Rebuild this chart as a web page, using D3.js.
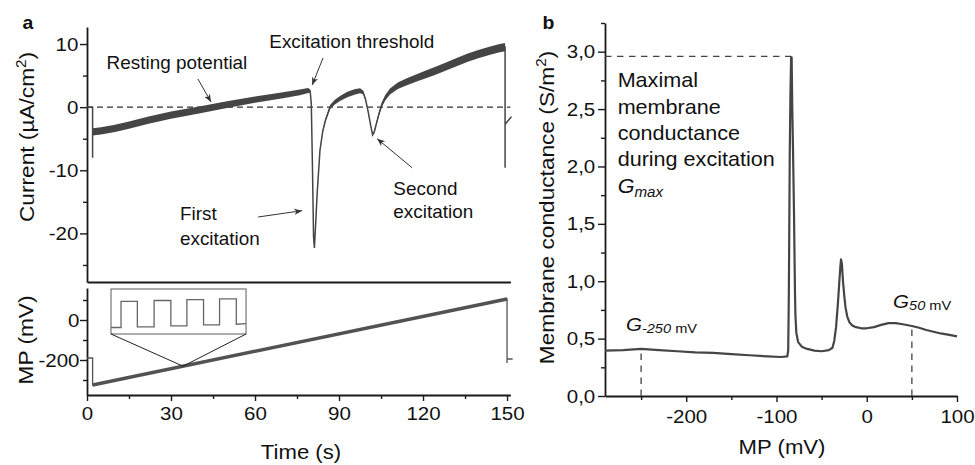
<!DOCTYPE html>
<html>
<head>
<meta charset="utf-8">
<script src="https://cdn.jsdelivr.net/npm/d3@7"></script>
<style>
  body { margin: 0; background: #fff; }
</style>
</head>
<body>
<svg id="fig" width="975" height="465"></svg>
<script>
// panel a, upper trace: membrane current (time s, uA/cm2, band thickness)
var curT = [0, 2, 2, 2, 5, 10, 15, 22, 30, 40, 50, 60, 70, 76, 79, 79.7, 80.1, 80.5, 80.9, 81.2, 81.6, 82.2, 83.2, 84.2, 85.2, 86.8, 88.5, 90.5, 93, 95.5, 97.5, 98.6, 99.5, 100.4, 101.3, 102, 102.6, 103.4, 104.3, 105.3, 106.5, 108.2, 111, 114, 117.5, 121, 124, 128, 132, 136, 140, 144, 147, 149.3, 149.3, 149.3, 151.6];
var curI = [0, 0, -8, -3.9, -3.75, -3.35, -2.85, -2.05, -1.25, -0.45, 0.4, 1.2, 1.9, 2.35, 2.65, 2.55, 0.5, -9, -20.5, -22.3, -19, -13.6, -6.8, -3.8, -2.0, 0.0, 0.8, 1.4, 2.0, 2.4, 2.6, 2.35, 1.2, -0.7, -2.9, -4.4, -3.9, -2.5, -1.0, 0.4, 1.5, 2.5, 3.4, 4.0, 4.6, 5.2, 5.7, 6.4, 7.15, 7.85, 8.45, 8.95, 9.3, 9.5, -9.6, -2.7, -1.5];
var curW = [0, 0, 0, 1.15, 1.15, 1.15, 1.15, 1.15, 1.15, 1.1, 1.05, 1.0, 0.95, 0.9, 0.8, 0.5, 0.15, 0.15, 0.15, 0.15, 0.15, 0.2, 0.25, 0.35, 0.5, 0.65, 0.75, 0.8, 0.85, 0.85, 0.8, 0.6, 0.45, 0.35, 0.3, 0.3, 0.35, 0.45, 0.6, 0.75, 0.85, 0.95, 1.05, 1.1, 1.15, 1.2, 1.25, 1.3, 1.3, 1.3, 1.3, 1.3, 1.3, 1.3, 0, 0, 0];

// panel a, lower trace: applied membrane potential
var mpT = [0, 2, 2, 150, 150, 150, 152];
var mpV = [-190, -190, -325, 105, -215, -195, -195];
var rampFrom = 2, rampTo = 3;     // indices of the ramp segment

// inset: a few pulses of the ramp, magnified
var insetPhase = [0, 0.306, 0.306, 0.804, 0.804, 1.315, 1.315, 1.826, 1.826, 2.315, 2.315, 2.823, 2.823, 3.312, 3.312, 3.823, 3.823, 4.12];
var insetLevel = [0, 0, 0.97, 0.97, 0.02, 0.02, 1.0, 1.0, 0.06, 0.06, 1.03, 1.03, 0.1, 0.1, 1.06, 1.06, 0.12, 0.14];
var insetBox = [8.57, 56.8, -70, 155];   // t0, t1, mp0, mp1
var zoomAt = [34.3, -231];

// panel b: membrane conductance vs membrane potential
var gMP = [-290, -270, -250, -230, -210, -190, -170, -150, -130, -110, -95, -88, -87, -86.3, -85.8, -85.3, -84.6, -83.8, -83.2, -82.5, -81.6, -80.6, -80, -79.5, -79, -78, -76, -72, -66, -58, -50, -42, -38, -36, -34, -32, -30.5, -29.3, -28.5, -27.5, -26.3, -25, -23.5, -21.5, -19, -16, -12, -6, 0, 8, 16, 24, 32, 40, 50, 58, 66, 74, 82, 90, 100];
var gVal = [0.395, 0.40, 0.41, 0.40, 0.39, 0.38, 0.375, 0.365, 0.355, 0.345, 0.34, 0.345, 0.4, 0.9, 1.5, 2.1, 2.6, 2.95, 2.95, 2.5, 2.1, 1.6, 1.2, 0.9, 0.7, 0.55, 0.47, 0.43, 0.41, 0.395, 0.39, 0.40, 0.42, 0.48, 0.6, 0.8, 0.98, 1.12, 1.19, 1.15, 1.0, 0.88, 0.77, 0.69, 0.64, 0.615, 0.6, 0.59, 0.59, 0.6, 0.62, 0.635, 0.635, 0.625, 0.61, 0.595, 0.575, 0.56, 0.545, 0.535, 0.52];
var gMax = [-83.5, 2.96];
var gLow = [-250, 0.41];
var gHigh = [50, 0.61];

// ticks
var timeTicks = [0, 30, 60, 90, 120, 150];
var timeMinor = [15, 45, 75, 105, 135];
var curTicks = [-20, -10, 0, 10];
var curMinor = [-25, -15, -5, 5];
var mpTicks = [-200, 0];
var mpMinor = [-300, -100, 100];
var gTicks = [0, 0.5, 1, 1.5, 2, 2.5, 3];
var gMinor = [0.25, 0.75, 1.25, 1.75, 2.25, 2.75, 3.25];
var gxTicks = [-200, -100, 0, 100];
var gxMinor = [-250, -150, -50, 50];

var FONT = '"Liberation Sans", Arial, Helvetica, sans-serif';
var SX = 1.08;   // text in the figure is a bit wide
var INK = "#1a1a1a", TRACE = "#454545";

var svg = d3.select("#fig");

var x = d3.scaleLinear().domain([0, 151.2]).range([87, 510.4]);
var yCur = d3.scaleLinear().domain([-27.7, 12.7]).range([282, 27]);
var yMP = d3.scaleLinear().domain([-375, 160]).range([395, 288]);
var xG = d3.scaleLinear().domain([-290, 100]).range([605, 957]);
var yG = d3.scaleLinear().domain([0, 3.25]).range([396, 23]);

function styleAxis(g, sw) {
  g.attr("font-family", FONT).attr("font-size", 19);
  g.select(".domain").attr("stroke", INK).attr("stroke-width", sw);
  g.selectAll(".tick line").attr("stroke", INK).attr("stroke-width", 1.4);
  g.selectAll(".tick text").attr("fill", "#111").attr("transform", "scale(" + SX + ",1)");
}
function minor(g) {
  g.select(".domain").remove();
  g.selectAll(".tick line").attr("stroke", INK).attr("stroke-width", 1.4);
}
function addText(px, py, str, size, o) {
  o = o || {};
  var t = svg.append("text")
    .attr("transform", "translate(" + px + "," + py + ")" + (o.rot ? " rotate(" + o.rot + ")" : "") + " scale(" + SX + ",1)")
    .attr("font-family", FONT).attr("font-size", size).attr("fill", "#111")
    .attr("text-anchor", o.anchor || "start");
  if (o.bold) t.attr("font-weight", "bold");
  if (o.italic) t.attr("font-style", "italic");
  if (str) t.text(str);
  return t;
}
var fmtComma = function (d) { return d3.format(".1f")(d).replace(".", ","); };

// ---------- panel a axes
svg.append("g").attr("transform", "translate(" + x(0) + ",0)")
  .call(d3.axisLeft(yCur).tickValues(curTicks).tickSize(7).tickPadding(1).tickSizeOuter(0).tickFormat(String))
  .call(styleAxis, 1.8);
svg.append("g").attr("transform", "translate(" + x(0) + ",0)")
  .call(d3.axisLeft(yCur).tickValues(curMinor).tickSize(4).tickFormat(""))
  .call(minor);
svg.append("g").attr("transform", "translate(0," + yCur(-27.7) + ")")
  .call(d3.axisBottom(x).tickValues([]).tickSizeOuter(0))
  .call(styleAxis, 2);

svg.append("g").attr("transform", "translate(" + x(0) + ",0)")
  .call(d3.axisLeft(yMP).tickValues(mpTicks).tickSize(7).tickPadding(0).tickSizeOuter(0).tickFormat(String))
  .call(styleAxis, 1.8);
svg.append("g").attr("transform", "translate(" + x(0) + ",0)")
  .call(d3.axisLeft(yMP).tickValues(mpMinor).tickSize(4).tickFormat(""))
  .call(minor);
svg.append("g").attr("transform", "translate(0," + yMP(-375) + ")")
  .call(d3.axisBottom(x).tickValues(timeTicks).tickSize(6).tickPadding(6).tickSizeOuter(0).tickFormat(String))
  .call(styleAxis, 2);
svg.append("g").attr("transform", "translate(0," + yMP(-375) + ")")
  .call(d3.axisBottom(x).tickValues(timeMinor).tickSize(4).tickFormat(""))
  .call(minor);

// zero line
svg.append("line")
  .attr("x1", x(0)).attr("x2", x(151.2)).attr("y1", yCur(0)).attr("y2", yCur(0))
  .attr("stroke", "#333").attr("stroke-width", 1.2).attr("stroke-dasharray", "6,4");

// current band + thin centre line
var idx = d3.range(curT.length);
svg.append("path")
  .attr("d", d3.area()
    .defined(function (i) { return curW[i] > 0; })
    .x(function (i) { return x(curT[i]); })
    .y0(function (i) { return yCur(curI[i] - curW[i] / 2); })
    .y1(function (i) { return yCur(curI[i] + curW[i] / 2); })(idx))
  .attr("fill", TRACE);
svg.append("path")
  .attr("d", d3.line().x(function (i) { return x(curT[i]); }).y(function (i) { return yCur(curI[i]); })(idx))
  .attr("fill", "none").attr("stroke", TRACE).attr("stroke-width", 1.5);

// potential trace
var mIdx = d3.range(mpT.length);
var mLine = d3.line().x(function (i) { return x(mpT[i]); }).y(function (i) { return yMP(mpV[i]); });
svg.append("path").attr("d", mLine(mIdx))
  .attr("fill", "none").attr("stroke", "#555").attr("stroke-width", 1.3);
svg.append("path").attr("d", mLine([rampFrom, rampTo]))
  .attr("fill", "none").attr("stroke", "#525252").attr("stroke-width", 3.4);

// inset
var ix = d3.scaleLinear().domain([0, 4.12]).range([x(insetBox[0]), x(insetBox[1])]);
var iy = d3.scaleLinear().domain([0, 1]).range([yMP(-37.5), yMP(97.5)]);
svg.append("rect")
  .attr("x", x(insetBox[0])).attr("y", yMP(insetBox[3]))
  .attr("width", x(insetBox[1]) - x(insetBox[0])).attr("height", yMP(insetBox[2]) - yMP(insetBox[3]))
  .attr("fill", "#fff").attr("stroke", "#6a6a6a").attr("stroke-width", 1.1);
svg.append("path")
  .attr("d", d3.line().x(function (i) { return ix(insetPhase[i]); }).y(function (i) { return iy(insetLevel[i]); })(d3.range(insetPhase.length)))
  .attr("fill", "none").attr("stroke", "#666").attr("stroke-width", 1.3);
svg.append("path")
  .attr("d", "M" + x(insetBox[0]) + "," + yMP(insetBox[2]) + "L" + x(zoomAt[0]) + "," + yMP(zoomAt[1]) + "L" + x(insetBox[1]) + "," + yMP(insetBox[2]))
  .attr("fill", "none").attr("stroke", "#222").attr("stroke-width", 1);

// arrows
svg.append("defs").append("marker")
  .attr("id", "ah").attr("viewBox", "0 0 10 10").attr("refX", 10).attr("refY", 5)
  .attr("markerWidth", 8).attr("markerHeight", 8).attr("markerUnits", "userSpaceOnUse").attr("orient", "auto")
  .append("path").attr("d", "M0,1 L10,5 L0,9 L3,5 Z").attr("fill", "#333");

var arrows = [
  [[84.3, 7.8], [80.4, 3.5]],
  [[39.6, 4.47], [44.3, 0.82]],
  [[61.1, -17.4], [76.8, -16.4]],
  [[116.1, -9.6], [103.6, -5.0]]
];
arrows.forEach(function (a) {
  svg.append("line")
    .attr("x1", x(a[0][0])).attr("y1", yCur(a[0][1]))
    .attr("x2", x(a[1][0])).attr("y2", yCur(a[1][1]))
    .attr("stroke", "#333").attr("stroke-width", 1).attr("marker-end", "url(#ah)");
});

addText(x(65.1), yCur(9.33), "Excitation threshold", 17.5);
addText(x(7.0), yCur(6.0), "Resting potential", 17.5);
addText(x(33.2), yCur(-17.9), "First", 17.5);
addText(x(33.2), yCur(-21.8), "excitation", 17.5);
addText(x(109.4), yCur(-13.9), "Second", 17.5);
addText(x(109.4), yCur(-17.6), "excitation", 17.5);

// axis titles panel a
var ct = addText(34, 137, null, 21, { rot: -90, anchor: "middle" });
ct.append("tspan").text("Current (\u00b5A/cm");
ct.append("tspan").attr("font-size", 14).attr("dy", -8).text("2");
ct.append("tspan").attr("dy", 8).text(")");
addText(33, 340, "MP (mV)", 21, { rot: -90, anchor: "middle" });
addText(301, 459, "Time (s)", 20.5, { anchor: "middle" });
addText(22.5, 28.5, "a", 18, { bold: true });

// ---------- panel b
svg.append("g").attr("transform", "translate(" + xG(-290) + ",0)")
  .call(d3.axisLeft(yG).tickValues(gTicks).tickSize(7).tickPadding(2).tickSizeOuter(0).tickFormat(fmtComma))
  .call(styleAxis, 1.8);
svg.append("g").attr("transform", "translate(" + xG(-290) + ",0)")
  .call(d3.axisLeft(yG).tickValues(gMinor).tickSize(4).tickFormat(""))
  .call(minor);
svg.append("g").attr("transform", "translate(0," + yG(0) + ")")
  .call(d3.axisBottom(xG).tickValues(gxTicks).tickSize(6).tickPadding(8).tickSizeOuter(0).tickFormat(String))
  .call(styleAxis, 2);
svg.append("g").attr("transform", "translate(0," + yG(0) + ")")
  .call(d3.axisBottom(xG).tickValues(gxMinor).tickSize(4).tickFormat(""))
  .call(minor);

// guide dashes
var dashed = [
  [[-290, gMax[1]], [gMax[0], gMax[1]]],
  [[gLow[0], 0], [gLow[0], gLow[1]]],
  [[gHigh[0], 0], [gHigh[0], gHigh[1]]]
];
dashed.forEach(function (d) {
  svg.append("line")
    .attr("x1", xG(d[0][0])).attr("y1", yG(d[0][1]))
    .attr("x2", xG(d[1][0])).attr("y2", yG(d[1][1]))
    .attr("stroke", "#444").attr("stroke-width", 1.3).attr("stroke-dasharray", "6.5,5.5");
});

svg.append("path")
  .attr("d", d3.line().x(function (i) { return xG(gMP[i]); }).y(function (i) { return yG(gVal[i]); })(d3.range(gMP.length)))
  .attr("fill", "none").attr("stroke", TRACE).attr("stroke-width", 2.2).attr("stroke-linejoin", "round");

// annotation panel b
var tx = xG(-276), lh = 26.3, b0 = 87.3;
addText(tx, b0, "Maximal", 20);
addText(tx, b0 + lh, "membrane", 20);
addText(tx, b0 + 2 * lh, "conductance", 20);
addText(tx, b0 + 3 * lh, "during excitation", 20);
var gm = addText(tx, b0 + 4 * lh + 0.5, null, 20, { italic: true });
gm.append("tspan").text("G");
gm.append("tspan").attr("font-size", 14).attr("dy", 4).text("max");

var gl = addText(xG(-266.8), yG(0.566), null, 19, { italic: true });
gl.append("tspan").text("G");
gl.append("tspan").attr("font-size", 13.5).attr("dy", 2).text("-250");
gl.append("tspan").attr("font-size", 13.5).attr("font-style", "normal").text(" mV");

var gh = addText(xG(29.2), yG(0.764), null, 19, { italic: true });
gh.append("tspan").text("G");
gh.append("tspan").attr("font-size", 13.5).attr("dy", 2).text("50");
gh.append("tspan").attr("font-size", 13.5).attr("font-style", "normal").text(" mV");

var mt = addText(553.5, 207.5, null, 21, { rot: -90, anchor: "middle" });
mt.append("tspan").text("Membrane conductance (S/m");
mt.append("tspan").attr("font-size", 14).attr("dy", -8).text("2");
mt.append("tspan").attr("dy", 8).text(")");
addText(782, 453.5, "MP (mV)", 20.5, { anchor: "middle" });
addText(542.5, 28.5, "b", 18, { bold: true });
</script>
</body>
</html>
